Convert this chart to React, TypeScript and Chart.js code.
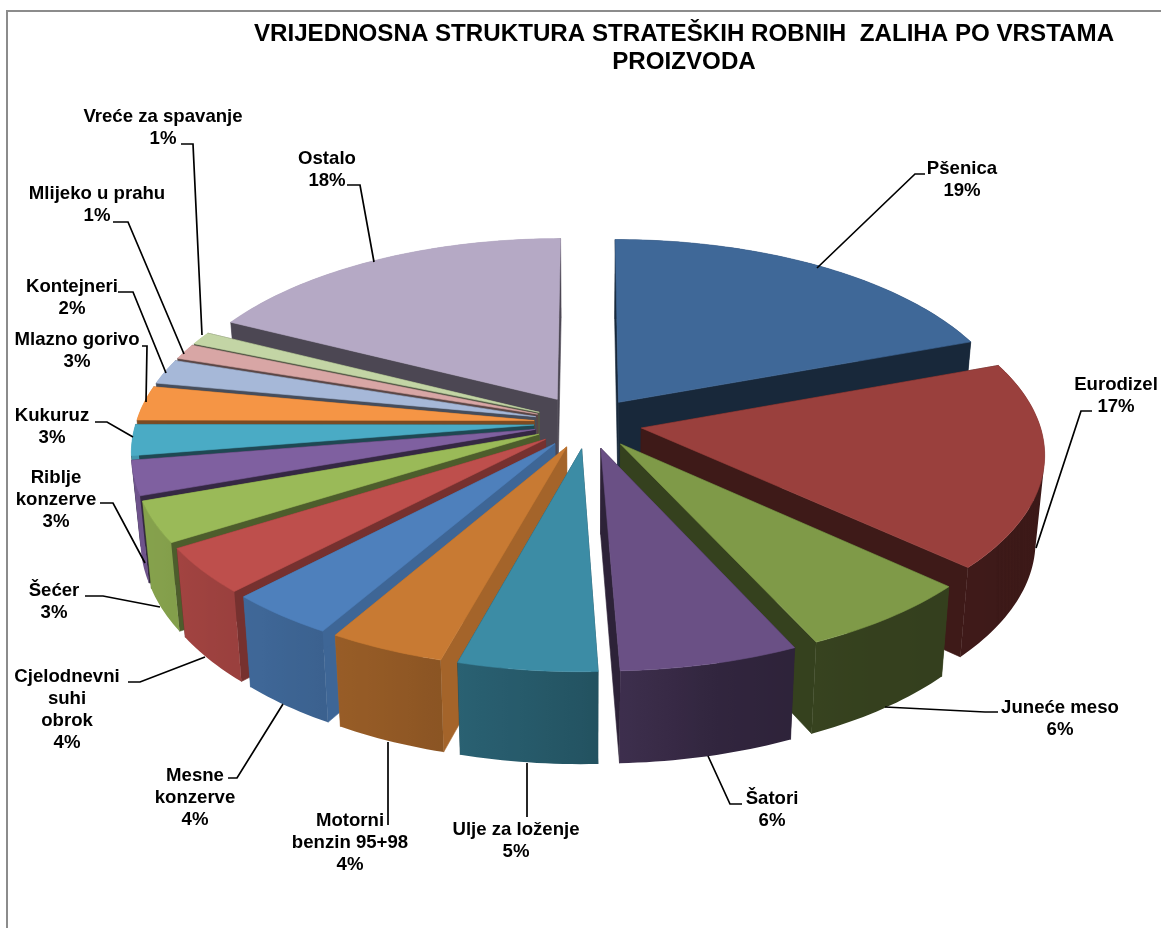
import React, { useEffect, useRef } from "react";
import { Chart, registerables } from "chart.js";

Chart.register(...registerables);

const titleLines = ["VRIJEDNOSNA STRUKTURA STRATEŠKIH ROBNIH  ZALIHA PO VRSTAMA", "PROIZVODA"];

const categories = [
  "Pšenica", "Eurodizel", "Juneće meso", "Šatori", "Ulje za loženje",
  "Motorni\nbenzin 95+98", "Mesne\nkonzerve", "Cjelodnevni\nsuhi\nobrok", "Šećer",
  "Riblje\nkonzerve", "Kukuruz", "Mlazno gorivo", "Kontejneri", "Mlijeko u prahu",
  "Vreće za spavanje", "Ostalo",
];
const values = [19.4, 17.4, 6.3, 6.3, 4.9, 4.1, 3.8, 3.9, 3.45, 2.9, 2.6, 2.9, 2.1, 1.3, 1.1, 17.55];
const colors = [
  "#3F6898", "#9A403D", "#7F9A48", "#6A5085", "#3C8CA5", "#C87A33", "#4E80BC", "#BE4F4C",
  "#9ABA58", "#7F60A0", "#4AABC5", "#F59545", "#A6B8D8", "#D8A6A5", "#C3D5A5", "#B5A9C5",
];
const radialShade = [0.38, 0.4, 0.42, 0.42, 0.5, 0.82, 0.8, 0.62, 0.5, 0.42, 0.42, 0.5, 0.42, 0.42, 0.42, 0.42];
const explodeBy = [0.136, 0.136, 0.136, 0.136, 0.136, 0.136, 0.136, 0.136, 0.136, 0.136, 0.136, 0.136, 0.136, 0.136, 0.136, 0.15];
const rimScale = [1, 1, 1, 1, 1, 1, 1, 1, 1, 1, 1, 1, 1, 1, 1, 0.99];

// label centre (first line) and leader polyline, per category
const labelAt = [
  [962, 168], [1116, 384], [1060, 707], [772, 798], [516, 829], [350, 820], [195, 775], [67, 676],
  [54, 590], [56, 477], [52, 415], [77, 339], [72, 286], [97, 193], [163, 116], [327, 158],
];
const leaders = [
  [[817, 268], [915, 174], [925, 174]],
  [[1036, 548], [1081, 411], [1092, 411]],
  [[885, 707], [985, 712], [998, 712]],
  [[708, 756], [730, 804], [742, 804]],
  [[527, 763], [527, 817]],
  [[388, 742], [388, 825]],
  [[283, 704], [237, 778], [228, 778]],
  [[205, 657], [140, 682], [128, 682]],
  [[160, 607], [103, 596], [85, 596]],
  [[145, 563], [113, 503], [100, 503]],
  [[133, 437], [107, 422], [95, 422]],
  [[146, 402], [147, 346], [142, 346]],
  [[166, 373], [133, 292], [118, 292]],
  [[184, 354], [128, 222], [113, 222]],
  [[202, 335], [193, 144], [181, 144]],
  [[374, 262], [360, 185], [347, 185]],
];

const CX = 588, CY = 423, FX = 398, FY = 188, K = 0.125, DEPTH = 85, SHRINK_X = 0.98, STRETCH_Y = 1.03;

function project(X: number, Y: number, bottom: boolean): [number, number] {
  const s = 1 / (1 + K * Y);
  let x = CX + X * FX * s;
  let y = CY - Y * FY * s;
  if (bottom) {
    x = CX + (x - CX) * SHRINK_X;
    y = CY + (y - CY) * STRETCH_Y + DEPTH;
  }
  return [x, y];
}

function shade(hex: string, f: number) {
  const n = parseInt(hex.slice(1), 16);
  return `rgb(${Math.round((n >> 16) * f)},${Math.round(((n >> 8) & 255) * f)},${Math.round((n & 255) * f)})`;
}

const shadeStops = [[0, 0.38], [90, 0.38], [150, 0.42], [165, 0.46], [180, 0.6], [200, 0.72], [220, 0.8], [240, 0.86], [270, 0.88], [360, 0.9]];
function outerShade(deg: number) {
  for (let i = 1; i < shadeStops.length; i++) {
    if (deg <= shadeStops[i][0]) {
      const [a, fa] = shadeStops[i - 1];
      const [b, fb] = shadeStops[i];
      return fa + ((fb - fa) * (deg - a)) / (b - a);
    }
  }
  return 0.9;
}

function poly(ctx: CanvasRenderingContext2D, pts: [number, number][], color: any) {
  ctx.beginPath();
  pts.forEach((p, i) => (i ? ctx.lineTo(p[0], p[1]) : ctx.moveTo(p[0], p[1])));
  ctx.closePath();
  ctx.fillStyle = color;
  ctx.strokeStyle = color;
  ctx.lineWidth = 0.6;
  ctx.fill();
  ctx.stroke();
}

// several quads filled as ONE path, all wound the same way, so no seams show between them
function quadStrip(ctx: CanvasRenderingContext2D, quads: [number, number][][], color: any) {
  if (!quads.length) return;
  ctx.beginPath();
  quads.forEach((q) => {
    let area = 0;
    q.forEach((p, i) => {
      const n = q[(i + 1) % q.length];
      area += p[0] * n[1] - n[0] * p[1];
    });
    const pts = area < 0 ? q.slice().reverse() : q;
    pts.forEach((p, i) => (i ? ctx.lineTo(p[0], p[1]) : ctx.moveTo(p[0], p[1])));
    ctx.closePath();
  });
  ctx.fillStyle = color;
  ctx.fill("nonzero");
}

const framePlugin = {
  id: "frame",
  beforeDraw(chart: any) {
    const c = chart.ctx;
    c.save();
    c.fillStyle = "#ffffff";
    c.fillRect(0, 0, chart.width, chart.height);
    c.strokeStyle = "#8C8C8C";
    c.lineWidth = 2;
    c.strokeRect(7, 11, chart.width + 20, chart.height + 20);
    c.restore();
  },
};

const pie3d = {
  id: "pie3d",
  beforeDatasetDraw(chart: any) {
    const ctx: CanvasRenderingContext2D = chart.ctx;
    const arcs = chart.getDatasetMeta(0).data;
    const slices = arcs.map((arc: any, i: number) => {
      const a0 = arc.startAngle + Math.PI / 2;
      const a1 = arc.endAngle + Math.PI / 2;
      const mid = (a0 + a1) / 2;
      return { i, a0, a1, mid, ox: explodeBy[i] * Math.sin(mid), oy: explodeBy[i] * Math.cos(mid) };
    });
    slices.sort((p: any, q: any) => Math.cos(q.mid) - Math.cos(p.mid));
    ctx.save();
    for (const sl of slices) {
      const { i, a0, a1, ox, oy } = sl;
      const base = colors[i];
      const R = rimScale[i];
      const steps = Math.max(2, Math.ceil((a1 - a0) / 0.02));
      const rim: [number, number][] = [];
      const angles: number[] = [];
      const stops: [number, string][] = [];
      for (let k = 0; k <= steps; k++) {
        const a = a0 + ((a1 - a0) * k) / steps;
        const p: [number, number] = [ox + R * Math.sin(a), oy + R * Math.cos(a)];
        rim.push(p);
        angles.push(a);
        const deg = ((a * 180) / Math.PI + 360) % 360;
        stops.push([project(p[0], p[1], false)[0], shade(base, outerShade(deg))]);
      }
      const xs = stops.map((s) => s[0]);
      const minX = Math.min(...xs), maxX = Math.max(...xs);
      const grad = ctx.createLinearGradient(minX, 0, maxX, 0);
      stops
        .slice()
        .sort((a, b) => a[0] - b[0])
        .forEach((s) => grad.addColorStop((s[0] - minX) / Math.max(1, maxX - minX), s[1]));

      const apexTop = project(ox, oy, false), apexBot = project(ox, oy, true);
      const radialWall = (W: [number, number]) =>
        poly(ctx, [apexTop, project(W[0], W[1], false), project(W[0], W[1], true), apexBot], shade(base, radialShade[i]));
      const backQuads: [number, number][][] = [];
      const frontQuads: [number, number][][] = [];
      for (let k = 0; k < steps; k++) {
        const A = rim[k], B = rim[k + 1];
        const q = [project(A[0], A[1], false), project(B[0], B[1], false), project(B[0], B[1], true), project(A[0], A[1], true)];
        (Math.cos((angles[k] + angles[k + 1]) / 2) > 0 ? backQuads : frontQuads).push(q);
      }
      quadStrip(ctx, backQuads, grad);
      radialWall(rim[0]);
      radialWall(rim[rim.length - 1]);
      quadStrip(ctx, frontQuads, grad);
      poly(ctx, [apexTop, ...rim.map((p) => project(p[0], p[1], false))], base);
    }
    ctx.restore();
    return false;
  },
  afterDatasetsDraw(chart: any) {
    const ctx: CanvasRenderingContext2D = chart.ctx;
    ctx.save();
    ctx.strokeStyle = "#000000";
    ctx.lineWidth = 1.7;
    leaders.forEach((line) => {
      ctx.beginPath();
      line.forEach((p, i) => (i ? ctx.lineTo(p[0], p[1]) : ctx.moveTo(p[0], p[1])));
      ctx.stroke();
    });
    ctx.fillStyle = "#000000";
    ctx.font = 'bold 18.6px "Liberation Sans"';
    ctx.textAlign = "center";
    ctx.textBaseline = "middle";
    categories.forEach((name, i) => {
      const lines = [...name.split("\n"), `${Math.round(values[i])}%`];
      lines.forEach((t, j) => ctx.fillText(t, labelAt[i][0], labelAt[i][1] + 1 + j * 21.8));
    });
    ctx.restore();
  },
};

export default function App() {
  const ref = useRef<HTMLCanvasElement>(null);
  useEffect(() => {
    const chart = new Chart(ref.current as HTMLCanvasElement, {
      type: "pie",
      data: {
        labels: categories.map((c) => c.replace(/\n/g, " ")),
        datasets: [{ data: values, backgroundColor: colors, borderWidth: 0 }],
      },
      options: {
        responsive: false,
        animation: false,
        layout: { padding: { left: 207, top: 20 } },
        plugins: {
          legend: { display: false },
          tooltip: { enabled: false },
          title: {
            display: true,
            text: titleLines,
            color: "#000000",
            font: { family: '"Liberation Sans"', size: 24.15, weight: "bold", lineHeight: 1.17 },
            padding: 0,
          },
        },
      },
      plugins: [framePlugin, pie3d],
    } as any);
    return () => chart.destroy();
  }, []);
  return (
    <canvas
      ref={ref}
      width={1161}
      height={928}
      style={{ position: "fixed", left: 0, top: 0, width: 1161, height: 928 }}
    />
  );
}
